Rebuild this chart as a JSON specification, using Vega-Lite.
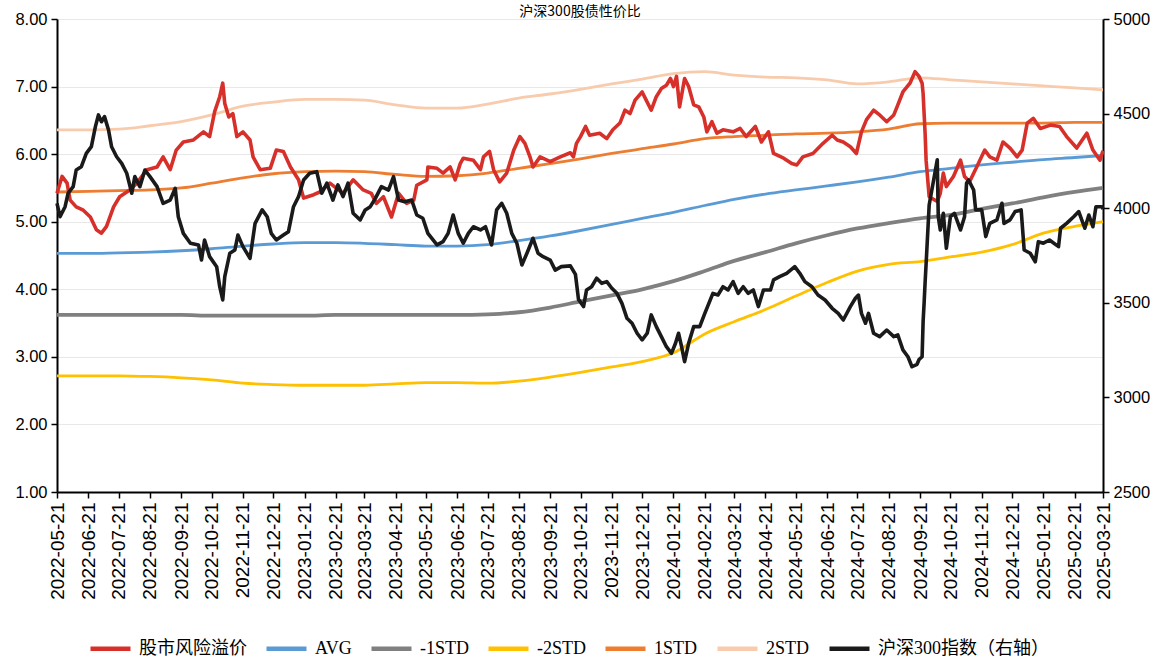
{
"$schema": "https://vega.github.io/schema/vega-lite/v6.json",
"width": 1046, "height": 473,
"autosize": {"type": "none"},
"padding": {"left": 57, "top": 19, "right": 55, "bottom": 169},
"background": "#ffffff",
"title": {"text": "沪深300股债性价比", "anchor": "middle", "offset": 3, "dy": 25, "baseline": "bottom", "font": "Noto Sans CJK SC", "fontSize": 14, "fontWeight": "normal", "color": "#000000"},
"datasets": {
"bands": [
{"d":"2022-05-21","AVG":4.53,"-1STD":3.62,"-2STD":2.72,"1STD":5.44,"2STD":6.36},
{"d":"2022-06-21","AVG":4.53,"-1STD":3.62,"-2STD":2.72,"1STD":5.45,"2STD":6.36},
{"d":"2022-07-21","AVG":4.54,"-1STD":3.62,"-2STD":2.72,"1STD":5.46,"2STD":6.37},
{"d":"2022-08-21","AVG":4.55,"-1STD":3.62,"-2STD":2.71,"1STD":5.47,"2STD":6.42},
{"d":"2022-09-21","AVG":4.57,"-1STD":3.62,"-2STD":2.69,"1STD":5.50,"2STD":6.48},
{"d":"2022-10-21","AVG":4.60,"-1STD":3.61,"-2STD":2.66,"1STD":5.57,"2STD":6.58},
{"d":"2022-11-21","AVG":4.64,"-1STD":3.61,"-2STD":2.61,"1STD":5.65,"2STD":6.71},
{"d":"2022-12-21","AVG":4.67,"-1STD":3.61,"-2STD":2.59,"1STD":5.71,"2STD":6.77},
{"d":"2023-01-21","AVG":4.69,"-1STD":3.61,"-2STD":2.58,"1STD":5.74,"2STD":6.81},
{"d":"2023-02-21","AVG":4.69,"-1STD":3.62,"-2STD":2.58,"1STD":5.75,"2STD":6.81},
{"d":"2023-03-21","AVG":4.68,"-1STD":3.62,"-2STD":2.58,"1STD":5.74,"2STD":6.80},
{"d":"2023-04-21","AVG":4.66,"-1STD":3.62,"-2STD":2.60,"1STD":5.70,"2STD":6.73},
{"d":"2023-05-21","AVG":4.64,"-1STD":3.62,"-2STD":2.62,"1STD":5.67,"2STD":6.68},
{"d":"2023-06-21","AVG":4.64,"-1STD":3.62,"-2STD":2.62,"1STD":5.68,"2STD":6.68},
{"d":"2023-07-21","AVG":4.66,"-1STD":3.63,"-2STD":2.61,"1STD":5.72,"2STD":6.74},
{"d":"2023-08-21","AVG":4.72,"-1STD":3.66,"-2STD":2.64,"1STD":5.79,"2STD":6.83},
{"d":"2023-09-21","AVG":4.79,"-1STD":3.73,"-2STD":2.70,"1STD":5.86,"2STD":6.89},
{"d":"2023-10-21","AVG":4.87,"-1STD":3.82,"-2STD":2.77,"1STD":5.93,"2STD":6.96},
{"d":"2023-11-21","AVG":4.96,"-1STD":3.91,"-2STD":2.85,"1STD":6.01,"2STD":7.04},
{"d":"2023-12-21","AVG":5.05,"-1STD":4.00,"-2STD":2.93,"1STD":6.08,"2STD":7.11},
{"d":"2024-01-21","AVG":5.14,"-1STD":4.12,"-2STD":3.06,"1STD":6.15,"2STD":7.19},
{"d":"2024-02-21","AVG":5.24,"-1STD":4.27,"-2STD":3.34,"1STD":6.23,"2STD":7.22},
{"d":"2024-03-21","AVG":5.33,"-1STD":4.42,"-2STD":3.52,"1STD":6.26,"2STD":7.17},
{"d":"2024-04-21","AVG":5.41,"-1STD":4.55,"-2STD":3.70,"1STD":6.28,"2STD":7.14},
{"d":"2024-05-21","AVG":5.47,"-1STD":4.68,"-2STD":3.90,"1STD":6.30,"2STD":7.13},
{"d":"2024-06-21","AVG":5.53,"-1STD":4.80,"-2STD":4.10,"1STD":6.31,"2STD":7.10},
{"d":"2024-07-21","AVG":5.59,"-1STD":4.90,"-2STD":4.27,"1STD":6.33,"2STD":7.04},
{"d":"2024-08-21","AVG":5.66,"-1STD":4.98,"-2STD":4.37,"1STD":6.37,"2STD":7.07},
{"d":"2024-09-21","AVG":5.74,"-1STD":5.05,"-2STD":4.41,"1STD":6.45,"2STD":7.13},
{"d":"2024-10-21","AVG":5.79,"-1STD":5.10,"-2STD":4.48,"1STD":6.46,"2STD":7.10},
{"d":"2024-11-21","AVG":5.84,"-1STD":5.19,"-2STD":4.55,"1STD":6.46,"2STD":7.07},
{"d":"2024-12-21","AVG":5.88,"-1STD":5.27,"-2STD":4.66,"1STD":6.46,"2STD":7.04},
{"d":"2025-01-21","AVG":5.92,"-1STD":5.36,"-2STD":4.83,"1STD":6.46,"2STD":7.01},
{"d":"2025-02-21","AVG":5.95,"-1STD":5.44,"-2STD":4.93,"1STD":6.47,"2STD":6.98},
{"d":"2025-03-21","AVG":5.98,"-1STD":5.50,"-2STD":5.00,"1STD":6.47,"2STD":6.95}
],
"erp": [
{"d":"2022-05-21","v":5.42},{"d":"2022-05-26","v":5.67},{"d":"2022-05-31","v":5.57},{"d":"2022-06-03","v":5.32},{"d":"2022-06-09","v":5.22},{"d":"2022-06-16","v":5.17},{"d":"2022-06-23","v":5.07},{"d":"2022-06-29","v":4.88},{"d":"2022-07-04","v":4.83},{"d":"2022-07-09","v":4.93},{"d":"2022-07-16","v":5.22},{"d":"2022-07-22","v":5.37},{"d":"2022-08-01","v":5.47},{"d":"2022-08-08","v":5.57},{"d":"2022-08-18","v":5.77},{"d":"2022-08-28","v":5.81},{"d":"2022-09-03","v":5.96},{"d":"2022-09-10","v":5.77},{"d":"2022-09-16","v":6.06},{"d":"2022-09-23","v":6.18},{"d":"2022-10-03","v":6.21},{"d":"2022-10-13","v":6.33},{"d":"2022-10-19","v":6.26},{"d":"2022-10-24","v":6.63},{"d":"2022-10-29","v":6.85},{"d":"2022-11-01","v":7.05},{"d":"2022-11-03","v":6.75},{"d":"2022-11-07","v":6.55},{"d":"2022-11-11","v":6.60},{"d":"2022-11-15","v":6.26},{"d":"2022-11-21","v":6.33},{"d":"2022-11-28","v":6.21},{"d":"2022-12-01","v":5.96},{"d":"2022-12-08","v":5.77},{"d":"2022-12-18","v":5.79},{"d":"2022-12-24","v":6.06},{"d":"2022-12-31","v":6.04},
{"d":"2023-01-07","v":5.81},{"d":"2023-01-15","v":5.62},{"d":"2023-01-20","v":5.35},{"d":"2023-01-30","v":5.40},{"d":"2023-02-05","v":5.44},{"d":"2023-02-15","v":5.57},{"d":"2023-02-28","v":5.42},{"d":"2023-03-10","v":5.62},{"d":"2023-03-20","v":5.47},{"d":"2023-03-28","v":5.42},{"d":"2023-04-02","v":5.27},{"d":"2023-04-09","v":5.37},{"d":"2023-04-17","v":5.07},{"d":"2023-04-24","v":5.42},{"d":"2023-05-02","v":5.27},{"d":"2023-05-09","v":5.32},{"d":"2023-05-12","v":5.54},{"d":"2023-05-22","v":5.62},{"d":"2023-05-23","v":5.81},{"d":"2023-06-01","v":5.79},{"d":"2023-06-07","v":5.72},{"d":"2023-06-14","v":5.81},{"d":"2023-06-19","v":5.62},{"d":"2023-06-24","v":5.86},{"d":"2023-06-27","v":5.94},{"d":"2023-07-07","v":5.91},{"d":"2023-07-14","v":5.77},{"d":"2023-07-17","v":5.96},{"d":"2023-07-23","v":6.04},{"d":"2023-07-27","v":5.77},{"d":"2023-08-02","v":5.59},{"d":"2023-08-09","v":5.72},{"d":"2023-08-16","v":6.06},{"d":"2023-08-22","v":6.26},{"d":"2023-08-27","v":6.16},{"d":"2023-09-01","v":5.96},{"d":"2023-09-04","v":5.81},{"d":"2023-09-11","v":5.96},{"d":"2023-09-21","v":5.89},{"d":"2023-10-01","v":5.96},{"d":"2023-10-11","v":6.02},{"d":"2023-10-14","v":5.96},{"d":"2023-10-17","v":6.16},{"d":"2023-10-21","v":6.26},{"d":"2023-10-26","v":6.41},{"d":"2023-10-30","v":6.28},{"d":"2023-11-09","v":6.31},{"d":"2023-11-16","v":6.23},{"d":"2023-11-22","v":6.36},{"d":"2023-11-29","v":6.46},{"d":"2023-12-04","v":6.65},{"d":"2023-12-09","v":6.60},{"d":"2023-12-14","v":6.80},{"d":"2023-12-21","v":6.92},{"d":"2023-12-25","v":6.80},{"d":"2023-12-30","v":6.65},
{"d":"2024-01-04","v":6.85},{"d":"2024-01-09","v":6.97},{"d":"2024-01-14","v":7.02},{"d":"2024-01-18","v":7.12},{"d":"2024-01-21","v":7.00},{"d":"2024-01-24","v":7.15},{"d":"2024-01-27","v":6.70},{"d":"2024-02-01","v":7.12},{"d":"2024-02-05","v":7.00},{"d":"2024-02-10","v":6.73},{"d":"2024-02-15","v":6.70},{"d":"2024-02-20","v":6.55},{"d":"2024-02-23","v":6.33},{"d":"2024-02-28","v":6.48},{"d":"2024-03-04","v":6.31},{"d":"2024-03-10","v":6.36},{"d":"2024-03-20","v":6.33},{"d":"2024-03-27","v":6.38},{"d":"2024-04-02","v":6.26},{"d":"2024-04-11","v":6.41},{"d":"2024-04-17","v":6.18},{"d":"2024-04-24","v":6.33},{"d":"2024-04-29","v":6.01},{"d":"2024-05-09","v":5.94},{"d":"2024-05-17","v":5.86},{"d":"2024-05-22","v":5.84},{"d":"2024-05-28","v":5.96},{"d":"2024-06-07","v":6.01},{"d":"2024-06-17","v":6.16},{"d":"2024-06-26","v":6.28},{"d":"2024-07-01","v":6.21},{"d":"2024-07-07","v":6.18},{"d":"2024-07-14","v":6.11},{"d":"2024-07-20","v":6.01},{"d":"2024-07-25","v":6.33},{"d":"2024-07-30","v":6.51},{"d":"2024-08-06","v":6.65},{"d":"2024-08-12","v":6.58},{"d":"2024-08-19","v":6.48},{"d":"2024-08-26","v":6.58},{"d":"2024-08-30","v":6.73},{"d":"2024-09-04","v":6.92},{"d":"2024-09-11","v":7.05},{"d":"2024-09-16","v":7.22},{"d":"2024-09-20","v":7.15},{"d":"2024-09-23","v":7.05},{"d":"2024-09-24","v":6.90},{"d":"2024-09-25","v":6.60},{"d":"2024-09-26","v":6.30},{"d":"2024-09-27","v":5.90},{"d":"2024-09-30","v":5.37},{"d":"2024-10-08","v":5.30},{"d":"2024-10-11","v":5.42},{"d":"2024-10-14","v":5.72},{"d":"2024-10-17","v":5.52},{"d":"2024-10-24","v":5.67},{"d":"2024-10-31","v":5.91},{"d":"2024-11-04","v":5.67},{"d":"2024-11-09","v":5.59},{"d":"2024-11-16","v":5.81},{"d":"2024-11-24","v":6.06},{"d":"2024-11-29","v":5.96},{"d":"2024-12-06","v":5.91},{"d":"2024-12-12","v":6.18},{"d":"2024-12-19","v":6.09},{"d":"2024-12-26","v":5.96},{"d":"2024-12-31","v":6.06},
{"d":"2025-01-05","v":6.46},{"d":"2025-01-11","v":6.53},{"d":"2025-01-18","v":6.38},{"d":"2025-01-28","v":6.43},{"d":"2025-02-06","v":6.41},{"d":"2025-02-13","v":6.26},{"d":"2025-02-23","v":6.09},{"d":"2025-03-05","v":6.31},{"d":"2025-03-11","v":6.06},{"d":"2025-03-18","v":5.91},{"d":"2025-03-21","v":6.05}
],
"hs": [
{"d":"2022-05-21","v":4026},{"d":"2022-05-24","v":3955},{"d":"2022-05-29","v":4008},{"d":"2022-06-01","v":4079},{"d":"2022-06-06","v":4114},{"d":"2022-06-09","v":4202},{"d":"2022-06-14","v":4219},{"d":"2022-06-19","v":4290},{"d":"2022-06-24","v":4325},{"d":"2022-06-28","v":4431},{"d":"2022-07-01","v":4493},{"d":"2022-07-04","v":4457},{"d":"2022-07-07","v":4484},{"d":"2022-07-11","v":4413},{"d":"2022-07-14","v":4325},{"d":"2022-07-19","v":4272},{"d":"2022-07-24","v":4237},{"d":"2022-07-29","v":4185},{"d":"2022-08-03","v":4079},{"d":"2022-08-06","v":4167},{"d":"2022-08-11","v":4114},{"d":"2022-08-16","v":4202},{"d":"2022-08-21","v":4167},{"d":"2022-08-28","v":4114},{"d":"2022-09-03","v":4026},{"d":"2022-09-10","v":4043},{"d":"2022-09-15","v":4105},{"d":"2022-09-18","v":3955},{"d":"2022-09-23","v":3867},{"d":"2022-09-30","v":3815},{"d":"2022-10-08","v":3806},{"d":"2022-10-11","v":3726},{"d":"2022-10-14","v":3832},{"d":"2022-10-19","v":3744},{"d":"2022-10-26","v":3691},{"d":"2022-10-29","v":3585},{"d":"2022-11-01","v":3515},{"d":"2022-11-03","v":3638},{"d":"2022-11-08","v":3762},{"d":"2022-11-13","v":3779},{"d":"2022-11-16","v":3858},{"d":"2022-11-21","v":3797},{"d":"2022-11-28","v":3735},{"d":"2022-12-03","v":3920},{"d":"2022-12-10","v":3991},{"d":"2022-12-15","v":3955},{"d":"2022-12-19","v":3867},{"d":"2022-12-24","v":3832},{"d":"2022-12-31","v":3858},
{"d":"2023-01-05","v":3876},{"d":"2023-01-10","v":4008},{"d":"2023-01-15","v":4061},{"d":"2023-01-20","v":4149},{"d":"2023-01-26","v":4185},{"d":"2023-02-02","v":4193},{"d":"2023-02-07","v":4079},{"d":"2023-02-12","v":4132},{"d":"2023-02-18","v":4043},{"d":"2023-02-23","v":4123},{"d":"2023-02-28","v":4061},{"d":"2023-03-05","v":4132},{"d":"2023-03-10","v":3973},{"d":"2023-03-17","v":3938},{"d":"2023-03-22","v":3991},{"d":"2023-03-27","v":4008},{"d":"2023-04-01","v":4052},{"d":"2023-04-07","v":4114},{"d":"2023-04-14","v":4096},{"d":"2023-04-19","v":4167},{"d":"2023-04-24","v":4043},{"d":"2023-04-30","v":4034},{"d":"2023-05-07","v":4043},{"d":"2023-05-12","v":3964},{"d":"2023-05-18","v":3947},{"d":"2023-05-23","v":3867},{"d":"2023-06-01","v":3806},{"d":"2023-06-07","v":3823},{"d":"2023-06-12","v":3867},{"d":"2023-06-17","v":3964},{"d":"2023-06-22","v":3867},{"d":"2023-06-27","v":3815},{"d":"2023-07-02","v":3867},{"d":"2023-07-07","v":3902},{"d":"2023-07-14","v":3885},{"d":"2023-07-19","v":3902},{"d":"2023-07-25","v":3806},{"d":"2023-07-30","v":3991},{"d":"2023-08-04","v":4026},{"d":"2023-08-09","v":3973},{"d":"2023-08-14","v":3867},{"d":"2023-08-19","v":3815},{"d":"2023-08-24","v":3700},{"d":"2023-08-29","v":3762},{"d":"2023-09-04","v":3841},{"d":"2023-09-09","v":3762},{"d":"2023-09-14","v":3744},{"d":"2023-09-21","v":3726},{"d":"2023-09-26","v":3673},{"d":"2023-10-02","v":3691},{"d":"2023-10-11","v":3695},{"d":"2023-10-16","v":3650},{"d":"2023-10-19","v":3518},{"d":"2023-10-24","v":3480},{"d":"2023-10-27","v":3568},{"d":"2023-11-01","v":3585},{"d":"2023-11-06","v":3630},{"d":"2023-11-11","v":3603},{"d":"2023-11-16","v":3612},{"d":"2023-11-21","v":3577},{"d":"2023-11-26","v":3550},{"d":"2023-12-01","v":3497},{"d":"2023-12-06","v":3418},{"d":"2023-12-11","v":3392},{"d":"2023-12-16","v":3339},{"d":"2023-12-21","v":3304},{"d":"2023-12-26","v":3339},{"d":"2023-12-30","v":3436},
{"d":"2024-01-04","v":3374},{"d":"2024-01-09","v":3321},{"d":"2024-01-14","v":3268},{"d":"2024-01-19","v":3233},{"d":"2024-01-23","v":3286},{"d":"2024-01-26","v":3339},{"d":"2024-01-29","v":3268},{"d":"2024-02-01","v":3189},{"d":"2024-02-05","v":3286},{"d":"2024-02-10","v":3374},{"d":"2024-02-16","v":3374},{"d":"2024-02-21","v":3444},{"d":"2024-02-25","v":3497},{"d":"2024-02-29","v":3550},{"d":"2024-03-05","v":3541},{"d":"2024-03-10","v":3585},{"d":"2024-03-15","v":3568},{"d":"2024-03-20","v":3612},{"d":"2024-03-25","v":3550},{"d":"2024-03-30","v":3585},{"d":"2024-04-04","v":3550},{"d":"2024-04-09","v":3568},{"d":"2024-04-14","v":3480},{"d":"2024-04-19","v":3568},{"d":"2024-04-26","v":3568},{"d":"2024-04-29","v":3621},{"d":"2024-05-05","v":3638},{"d":"2024-05-12","v":3656},{"d":"2024-05-20","v":3691},{"d":"2024-05-25","v":3656},{"d":"2024-05-30","v":3612},{"d":"2024-06-06","v":3585},{"d":"2024-06-12","v":3541},{"d":"2024-06-19","v":3515},{"d":"2024-06-26","v":3471},{"d":"2024-07-02","v":3444},{"d":"2024-07-07","v":3409},{"d":"2024-07-14","v":3480},{"d":"2024-07-19","v":3524},{"d":"2024-07-22","v":3541},{"d":"2024-07-25","v":3444},{"d":"2024-07-29","v":3392},{"d":"2024-08-01","v":3444},{"d":"2024-08-06","v":3339},{"d":"2024-08-12","v":3321},{"d":"2024-08-19","v":3356},{"d":"2024-08-26","v":3321},{"d":"2024-08-30","v":3330},{"d":"2024-09-04","v":3251},{"d":"2024-09-09","v":3215},{"d":"2024-09-13","v":3162},{"d":"2024-09-18","v":3175},{"d":"2024-09-20","v":3200},{"d":"2024-09-23","v":3215},{"d":"2024-09-24","v":3400},{"d":"2024-09-25","v":3500},{"d":"2024-09-26","v":3610},{"d":"2024-09-27","v":3709},{"d":"2024-09-30","v":4017},{"d":"2024-10-08","v":4256},{"d":"2024-10-09","v":3955},{"d":"2024-10-11","v":3885},{"d":"2024-10-14","v":3973},{"d":"2024-10-17","v":3788},{"d":"2024-10-21","v":3955},{"d":"2024-10-25","v":3973},{"d":"2024-10-31","v":3885},{"d":"2024-11-04","v":3955},{"d":"2024-11-06","v":4132},{"d":"2024-11-08","v":4149},{"d":"2024-11-13","v":4096},{"d":"2024-11-15","v":3991},{"d":"2024-11-21","v":3991},{"d":"2024-11-25","v":3850},{"d":"2024-11-29","v":3920},{"d":"2024-12-06","v":3938},{"d":"2024-12-11","v":4026},{"d":"2024-12-13","v":3920},{"d":"2024-12-19","v":3938},{"d":"2024-12-24","v":3982},{"d":"2024-12-30","v":3991},
{"d":"2025-01-02","v":3779},{"d":"2025-01-08","v":3762},{"d":"2025-01-13","v":3717},{"d":"2025-01-16","v":3823},{"d":"2025-01-21","v":3815},{"d":"2025-01-27","v":3832},{"d":"2025-02-05","v":3797},{"d":"2025-02-07","v":3894},{"d":"2025-02-13","v":3920},{"d":"2025-02-20","v":3955},{"d":"2025-02-25","v":3982},{"d":"2025-03-03","v":3894},{"d":"2025-03-07","v":3964},{"d":"2025-03-11","v":3902},{"d":"2025-03-14","v":4008},{"d":"2025-03-20","v":4008},{"d":"2025-03-21","v":3995}
]
},
"encoding": {
"x": {"field": "d", "type": "temporal",
 "scale": {"type": "utc", "nice": false, "domain": [{"year":2022,"month":5,"date":21,"utc":true},{"year":2025,"month":3,"date":21,"utc":true}]},
 "axis": {"title": null, "format": "%Y-%m-%d", "labelAngle": -90, "labelFont": "Liberation Sans", "labelFontSize": 19, "labelColor": "#000000", "labelPadding": 4, "labelOverlap": false, "labelBound": false, "labelFlush": false, "grid": false, "domainColor": "#000000", "domainWidth": 2, "tickColor": "#000000", "tickWidth": 1.5, "tickSize": 6,
 "values": [{"year":2022,"month":5,"date":21,"utc":true},{"year":2022,"month":6,"date":21,"utc":true},{"year":2022,"month":7,"date":21,"utc":true},{"year":2022,"month":8,"date":21,"utc":true},{"year":2022,"month":9,"date":21,"utc":true},{"year":2022,"month":10,"date":21,"utc":true},{"year":2022,"month":11,"date":21,"utc":true},{"year":2022,"month":12,"date":21,"utc":true},{"year":2023,"month":1,"date":21,"utc":true},{"year":2023,"month":2,"date":21,"utc":true},{"year":2023,"month":3,"date":21,"utc":true},{"year":2023,"month":4,"date":21,"utc":true},{"year":2023,"month":5,"date":21,"utc":true},{"year":2023,"month":6,"date":21,"utc":true},{"year":2023,"month":7,"date":21,"utc":true},{"year":2023,"month":8,"date":21,"utc":true},{"year":2023,"month":9,"date":21,"utc":true},{"year":2023,"month":10,"date":21,"utc":true},{"year":2023,"month":11,"date":21,"utc":true},{"year":2023,"month":12,"date":21,"utc":true},{"year":2024,"month":1,"date":21,"utc":true},{"year":2024,"month":2,"date":21,"utc":true},{"year":2024,"month":3,"date":21,"utc":true},{"year":2024,"month":4,"date":21,"utc":true},{"year":2024,"month":5,"date":21,"utc":true},{"year":2024,"month":6,"date":21,"utc":true},{"year":2024,"month":7,"date":21,"utc":true},{"year":2024,"month":8,"date":21,"utc":true},{"year":2024,"month":9,"date":21,"utc":true},{"year":2024,"month":10,"date":21,"utc":true},{"year":2024,"month":11,"date":21,"utc":true},{"year":2024,"month":12,"date":21,"utc":true},{"year":2025,"month":1,"date":21,"utc":true},{"year":2025,"month":2,"date":21,"utc":true},{"year":2025,"month":3,"date":21,"utc":true}]}
}
},
"layer": [
{
 "encoding": {"y": {"field": "v", "type": "quantitative", "scale": {"domain": [1, 8], "nice": false, "zero": false},
   "axis": {"title": null, "values": [1,2,3,4,5,6,7,8], "format": ".2f", "labelFont": "Liberation Sans", "labelFontSize": 16.5, "labelColor": "#000000", "labelPadding": 4, "domainColor": "#000000", "domainWidth": 2, "tickColor": "#000000", "tickWidth": 1.5, "tickSize": 6, "grid": true, "gridColor": "#e8e8e8", "gridWidth": 1.2}}},
 "layer": [
  {"data": {"name": "bands"}, "transform": [{"fold": ["2STD"], "as": ["s", "v"]}], "mark": {"type": "line", "strokeWidth": 2.8, "interpolate": "monotone"},
   "encoding": {"color": {"datum": "2STD", "type": "nominal", "legend": {"title": null}, "scale": {"domain": ["股市风险溢价","AVG","-1STD","-2STD","1STD","2STD","沪深300指数（右轴）"], "range": ["#d7302a","#5b9bd5","#808080","#ffc000","#ed7d31","#f8cbad","#1a1a1a"]}}}},
  {"data": {"name": "bands"}, "transform": [{"fold": ["1STD"], "as": ["s", "v"]}], "mark": {"type": "line", "strokeWidth": 2.8, "interpolate": "monotone"},
   "encoding": {"color": {"datum": "1STD", "type": "nominal", "legend": {"title": null}, "scale": {"domain": ["股市风险溢价","AVG","-1STD","-2STD","1STD","2STD","沪深300指数（右轴）"], "range": ["#d7302a","#5b9bd5","#808080","#ffc000","#ed7d31","#f8cbad","#1a1a1a"]}}}},
  {"data": {"name": "bands"}, "transform": [{"fold": ["AVG"], "as": ["s", "v"]}], "mark": {"type": "line", "strokeWidth": 2.8, "interpolate": "monotone"},
   "encoding": {"color": {"datum": "AVG", "type": "nominal", "legend": {"title": null}, "scale": {"domain": ["股市风险溢价","AVG","-1STD","-2STD","1STD","2STD","沪深300指数（右轴）"], "range": ["#d7302a","#5b9bd5","#808080","#ffc000","#ed7d31","#f8cbad","#1a1a1a"]}}}},
  {"data": {"name": "bands"}, "transform": [{"fold": ["-1STD"], "as": ["s", "v"]}], "mark": {"type": "line", "strokeWidth": 3.8, "interpolate": "monotone"},
   "encoding": {"color": {"datum": "-1STD", "type": "nominal", "legend": {"title": null}, "scale": {"domain": ["股市风险溢价","AVG","-1STD","-2STD","1STD","2STD","沪深300指数（右轴）"], "range": ["#d7302a","#5b9bd5","#808080","#ffc000","#ed7d31","#f8cbad","#1a1a1a"]}}}},
  {"data": {"name": "bands"}, "transform": [{"fold": ["-2STD"], "as": ["s", "v"]}], "mark": {"type": "line", "strokeWidth": 2.8, "interpolate": "monotone"},
   "encoding": {"color": {"datum": "-2STD", "type": "nominal", "legend": {"title": null}, "scale": {"domain": ["股市风险溢价","AVG","-1STD","-2STD","1STD","2STD","沪深300指数（右轴）"], "range": ["#d7302a","#5b9bd5","#808080","#ffc000","#ed7d31","#f8cbad","#1a1a1a"]}}}},
  {"data": {"name": "erp"}, "mark": {"type": "line", "strokeWidth": 3.6, "strokeJoin": "round"},
   "encoding": {"color": {"datum": "股市风险溢价", "type": "nominal", "legend": {"title": null}, "scale": {"domain": ["股市风险溢价","AVG","-1STD","-2STD","1STD","2STD","沪深300指数（右轴）"], "range": ["#d7302a","#5b9bd5","#808080","#ffc000","#ed7d31","#f8cbad","#1a1a1a"]}}}}
 ]
},
{
 "data": {"name": "hs"},
 "mark": {"type": "line", "strokeWidth": 3.6, "strokeJoin": "round"},
 "encoding": {
  "y": {"field": "v", "type": "quantitative", "scale": {"domain": [2500, 5000], "nice": false, "zero": false},
   "axis": {"orient": "right", "title": null, "values": [2500,3000,3500,4000,4500,5000], "format": "d", "labelFont": "Liberation Sans", "labelFontSize": 16.5, "labelColor": "#000000", "labelPadding": 4, "domainColor": "#000000", "domainWidth": 2, "tickColor": "#000000", "tickWidth": 1.5, "tickSize": 6, "grid": false}},
  "color": {"datum": "沪深300指数（右轴）", "type": "nominal", "legend": {"title": null}, "scale": {"domain": ["股市风险溢价","AVG","-1STD","-2STD","1STD","2STD","沪深300指数（右轴）"], "range": ["#d7302a","#5b9bd5","#808080","#ffc000","#ed7d31","#f8cbad","#1a1a1a"]}}
 }
}
],
"resolve": {"scale": {"y": "independent"}},
"config": {
 "view": {"stroke": null},
 "legend": {"orient": "none", "legendX": 31, "legendY": 607, "direction": "horizontal", "padding": 0, "symbolType": "stroke", "symbolSize": 1600, "symbolStrokeWidth": 4.5, "labelFont": "Liberation Serif, Noto Sans CJK SC", "labelFontSize": 18, "labelColor": "#000000", "labelOffset": 6, "columnPadding": 10, "labelLimit": 400}
}
}
